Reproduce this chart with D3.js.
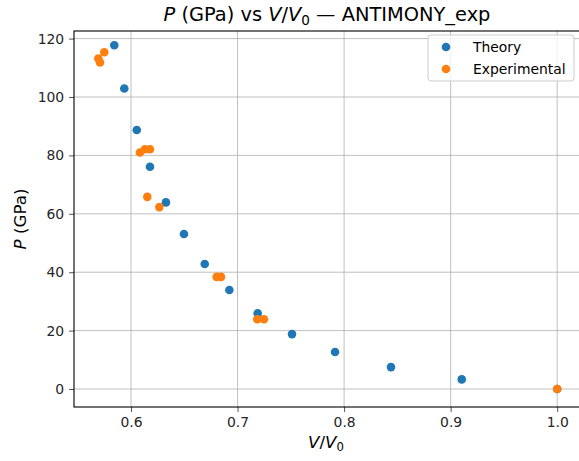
<!DOCTYPE html>
<html>
<head>
<meta charset="utf-8">
<script src="https://cdn.jsdelivr.net/npm/d3@7"></script>
<style>
  body { margin: 0; background: #fff; }
  svg { font-family: "DejaVu Sans", sans-serif; }
</style>
</head>
<body>
<div id="chart"></div>
<script>
// data
const theoryV = [0.5843, 0.5937, 0.6054, 0.6178, 0.6328, 0.6497, 0.6692, 0.6923, 0.7189, 0.7511, 0.7915, 0.8440, 0.9104, 1.0];
const theoryP = [117.7, 102.9, 88.7, 76.1, 63.9, 53.1, 42.8, 33.9, 25.9, 18.8, 12.7, 7.5, 3.3, 0.0];
const expV = [0.5749, 0.5693, 0.5709, 0.6084, 0.6131, 0.6178, 0.6153, 0.6266, 0.6804, 0.6845, 0.7185, 0.7248, 1.0];
const expP = [115.3, 113.2, 111.8, 81.0, 82.1, 82.1, 65.8, 62.3, 38.4, 38.4, 23.9, 23.9, 0.0];
const xTicks = [0.6, 0.7, 0.8, 0.9, 1.0];
const yTicks = [0, 20, 40, 60, 80, 100, 120];
const seriesNames = ["Theory", "Experimental"];
const colors = ["#1f77b4", "#ff7f0e"];

// set the dimensions and margins of the graph
const W = 579, H = 461;
const margin = {top: 31, right: -1, bottom: 54, left: 74},
  width = W - margin.left - margin.right,
  height = H - margin.top - margin.bottom;

const root = d3.select("#chart")
  .append("svg")
    .attr("width", W)
    .attr("height", H);

const svg = root.append("g")
  .attr("transform", `translate(${margin.left}, ${margin.top})`);

const x = d3.scaleLinear().domain([0.5465, 1.0214]).range([0, width]);
const y = d3.scaleLinear().domain([-6.16, 122.6]).range([height, 0]);

// grid
svg.append("g")
  .selectAll("line")
  .data(xTicks)
  .join("line")
    .attr("x1", d => x(d)).attr("x2", d => x(d))
    .attr("y1", 0).attr("y2", height)
    .attr("stroke", "#b0b0b0").attr("stroke-width", 0.8);
svg.append("g")
  .selectAll("line")
  .data(yTicks)
  .join("line")
    .attr("x1", 0).attr("x2", width)
    .attr("y1", d => y(d)).attr("y2", d => y(d))
    .attr("stroke", "#b0b0b0").attr("stroke-width", 0.8);

// axes
const xAxis = svg.append("g")
  .attr("transform", `translate(0, ${height})`)
  .call(d3.axisBottom(x).tickValues(xTicks).tickFormat(d3.format(".1f")).tickSize(4.9).tickPadding(4.9).tickSizeOuter(0));
const yAxis = svg.append("g")
  .call(d3.axisLeft(y).tickValues(yTicks).tickSize(4.9).tickPadding(4.9).tickSizeOuter(0));
[xAxis, yAxis].forEach(a => {
  a.selectAll("text").attr("font-size", 13.9).attr("fill", "#262626").attr("font-family", "DejaVu Sans");
  a.selectAll("line").attr("stroke", "#262626").attr("stroke-width", 0.8);
  a.select(".domain").remove();
});

// frame
svg.append("rect")
  .attr("width", width).attr("height", height)
  .attr("fill", "none").attr("stroke", "#000").attr("stroke-width", 1.1);

// points
const theory = theoryV.map((v, i) => ({v: v, p: theoryP[i]}));
const exp = expV.map((v, i) => ({v: v, p: expP[i]}));
[theory, exp].forEach((data, k) => {
  svg.append("g")
    .selectAll("circle")
    .data(data)
    .join("circle")
      .attr("cx", d => x(d.v))
      .attr("cy", d => y(d.p))
      .attr("r", 4.3)
      .attr("fill", colors[k]);
});

// title
const title = root.append("text")
  .attr("x", margin.left + (W - 1 - margin.left) / 2 + 1)
  .attr("y", 21)
  .attr("text-anchor", "middle")
  .attr("font-size", 19.4)
  .attr("fill", "#000");
title.append("tspan").attr("font-style", "italic").text("P");
title.append("tspan").text(" (GPa) vs ");
title.append("tspan").attr("font-style", "italic").text("V");
title.append("tspan").text("/");
title.append("tspan").attr("font-style", "italic").text("V");
title.append("tspan").attr("font-size", 13.6).attr("dy", 3.5).text("0");
title.append("tspan").attr("dy", -3.5).text(" — ANTIMONY_exp");

// x label
const xl = root.append("text")
  .attr("x", margin.left + (W - 1 - margin.left) / 2)
  .attr("y", 448)
  .attr("text-anchor", "middle")
  .attr("font-size", 16.7)
  .attr("fill", "#000");
xl.append("tspan").attr("font-style", "italic").text("V");
xl.append("tspan").text("/");
xl.append("tspan").attr("font-style", "italic").text("V");
xl.append("tspan").attr("font-size", 11.7).attr("dy", 3).text("0");

// y label
const yl = root.append("text")
  .attr("transform", `translate(26, ${margin.top + height / 2}) rotate(-90)`)
  .attr("text-anchor", "middle")
  .attr("font-size", 16.7)
  .attr("fill", "#000");
yl.append("tspan").attr("font-style", "italic").text("P");
yl.append("tspan").text(" (GPa)");

// legend
const legend = svg.append("g").attr("transform", `translate(${354}, ${4})`);
legend.append("rect")
  .attr("width", 146).attr("height", 46).attr("rx", 3)
  .attr("fill", "#fff").attr("fill-opacity", 0.8)
  .attr("stroke", "#cccccc").attr("stroke-width", 1);
legend.selectAll("circle")
  .data(seriesNames)
  .join("circle")
    .attr("cx", 18)
    .attr("cy", (d, i) => 12 + i * 22)
    .attr("r", 4.3)
    .attr("fill", (d, i) => colors[i]);
legend.selectAll("text")
  .data(seriesNames)
  .join("text")
    .attr("x", 45)
    .attr("y", (d, i) => 12 + i * 22)
    .attr("dy", "0.35em")
    .attr("font-size", 13.9)
    .attr("fill", "#000")
    .text(d => d);
</script>
</body>
</html>
